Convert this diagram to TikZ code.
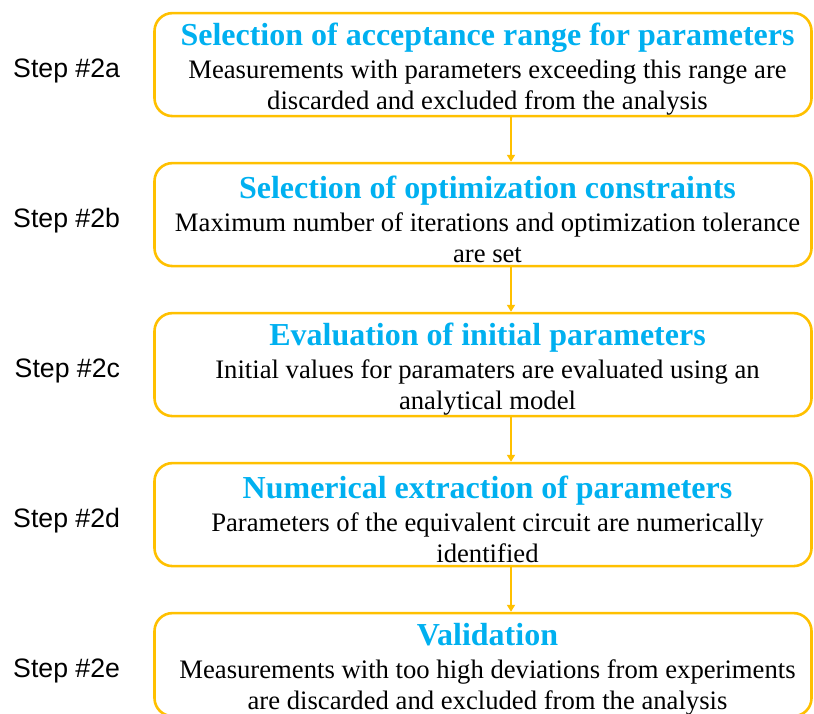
\documentclass[tikz,border=0pt]{standalone}
\usepackage{fontspec}
\setmainfont{Liberation Serif}
\newfontfamily\labelfont{Liberation Sans}
\usetikzlibrary{arrows.meta, positioning}
\definecolor{boxorange}{HTML}{FFC000}
\definecolor{headblue}{HTML}{00B0F0}
\newcommand{\boxhead}[1]{{\fontsize{32}{36}\selectfont\bfseries\color{headblue}#1}}

\begin{document}
\begin{tikzpicture}[x=1pt, y=-1pt,
                    stepbox/.style={rectangle, rounded corners=18pt, draw=boxorange,
                                    line width=2.6pt, minimum width=657pt, minimum height=103pt},
                    steptext/.style={align=center, inner sep=0pt, font=\fontsize{26.67}{31}\selectfont},
                    steplabel/.style={inner sep=0pt, font=\labelfont\fontsize{26.67}{32}\selectfont},
                    flow/.style={draw=boxorange, line width=1.8pt, -{Triangle[length=7pt, width=8pt]}}]

\useasboundingbox (0,0) rectangle (814,713);
\clip (0,0) rectangle (814,713);

% Boxes
\node (accbox) [stepbox] at (483,64.6) {};
\node (optbox) [stepbox] at (483,214.6) {};
\node (initbox) [stepbox] at (483,364.6) {};
\node (numbox) [stepbox] at (483,514.6) {};
\node (valbox) [stepbox] at (483,664.6) {};

% Texts
\node (acctext) [steptext] at ([xshift=4.5pt,yshift=-5pt]accbox.center)
  {\boxhead{Selection of acceptance range for parameters}\\[2pt]
   Measurements with parameters exceeding this range are\\
   discarded and excluded from the analysis};
\node (opttext) [steptext] at ([xshift=4.5pt,yshift=-5pt]optbox.center)
  {\boxhead{Selection of optimization constraints}\\[2pt]
   Maximum number of iterations and optimization tolerance\\
   are set};
\node (inittext) [steptext] at ([xshift=4.5pt,yshift=-5pt]initbox.center)
  {\boxhead{Evaluation of initial parameters}\\[2pt]
   Initial values for paramaters are evaluated using an\\
   analytical model};
\node (numtext) [steptext] at ([xshift=4.5pt,yshift=-5pt]numbox.center)
  {\boxhead{Numerical extraction of parameters}\\[2pt]
   Parameters of the equivalent circuit are numerically\\
   identified};
\node (valtext) [steptext] at ([xshift=4.5pt,yshift=-5pt]valbox.center)
  {\boxhead{Validation}\\[2pt]
   Measurements with too high deviations from experiments\\
   are discarded and excluded from the analysis};

% Step labels
\node (acclabel) [steplabel, left=33pt of accbox, yshift=-6pt] {Step \#2a};
\node (optlabel) [steplabel, left=33pt of optbox, yshift=-6pt] {Step \#2b};
\node (initlabel) [steplabel, left=33pt of initbox, yshift=-6pt] {Step \#2c};
\node (numlabel) [steplabel, left=33pt of numbox, yshift=-6pt] {Step \#2d};
\node (vallabel) [steplabel, left=33pt of valbox, yshift=-6pt] {Step \#2e};

% Arrows
\draw[flow] ([xshift=28pt]accbox.south) -- ([xshift=28pt]optbox.north);
\draw[flow] ([xshift=28pt]optbox.south) -- ([xshift=28pt]initbox.north);
\draw[flow] ([xshift=28pt]initbox.south) -- ([xshift=28pt]numbox.north);
\draw[flow] ([xshift=28pt]numbox.south) -- ([xshift=28pt]valbox.north);

\end{tikzpicture}
\end{document}
